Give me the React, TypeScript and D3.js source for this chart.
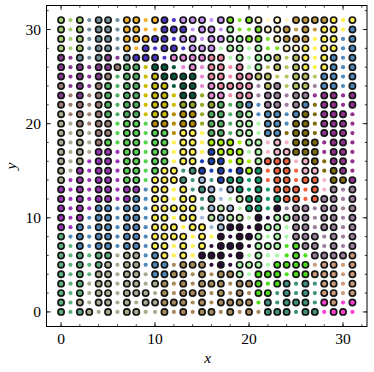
import React, { useRef, useEffect } from 'react';
import * as d3 from 'd3';

// one string per row, top row is y = 31; each char is the cluster of the point
const clusterRows = [
  'aaabbbbccccddeeeeefffgggghhhhiii',
  'aaabbbbccccdddeeeerfffgghhhhiiij',
  'aaabbbbcccdddeeeeerrfffghhhiiijj',
  'aaabbbbccdddddeeerrrrrffggiiiijj',
  'kkbbbkkbddddppppqqrrrrrsssiiijjj',
  'kkkkkklmmnoooppp' + 'qqqqrrssssiiijjj',
  'kkkkklmmmnnoooop' + 'qqqqqsssssssjjjj',
  'lkkklmmmmnnnooop' + 'pqqqqtstssstjjjj',
  'klkllmmmmnnnnoou' + 'ppqqqttttttAAAAA',
  'lllllmmmmnnnnuuu' + 'ummmjjttttjBAAAA',
  'wllllmmmmnnnvvvu' + 'mmmmrjjjjjBBAAAA',
  'wwllllxxxxvvvvvu' + 'mmmrrrjjjBBBAAAA',
  'wwwwllxxxxxxviii' + 'mmmrrrjjBBBBAAAA',
  'wwwwlxxxxxxxiiii' + 'CCCCrrDDDBBBAAAA',
  'wwwwyyyxxxxxiiii' + 'zCCCrrDDDBBBAAAA',
  'wwwyyyyxxxxxiiiz' + 'zzCCCrEEEDDBBAAA',
  'wwyyyyyxxxxiiFFz' + 'zzzzCGEEEEDDBBAA',
  'wyyyyyyxxxiiiFFH' + 'FzGGGGEEEEEEDBBA',
  'yyyyyyyyyjiiiiFF' + 'HHHGGGGEEEEEDttt',
  'yyyyyyyyjjiiiiiF' + 'FHJJGGGGEEEEtttt',
  'yyyyjjjjjjiiiiiF' + 'HJHJGGGKtttttttt',
  'yyyjjjjjjjiiiiiH' + 'JHJJJKKrrttttttt',
  'yyjjjjjjjjiiiiii' + 'HHKKKKrrrttttttt',
  'Ljjjjjjjjjiiiiii' + 'iKKKKrrrrttttttt',
  'LLjjjjjjjjiiiiii' + 'KKKKKrrrMMtttttt',
  'LLLLLLwwwjjiiiiK' + 'KKKKrrrrMMMttttO',
  'LLLLLwwwwjjjPPPP' + 'KKKrrrrMMMMOOOOO',
  'LLLLwwwwwwjjPPPP' + 'PPPrrMMMMMMOOOOO',
  'LLLwwwwwwwwPPPPP' + 'PPPPPMMMFFFFOOOO',
  'LLLwwwwwwwwPPPPP' + 'PPPPPMMFFFFFOOOO',
  'LLwwwwwwwwwPPPPP' + 'PPPPPMFFFFFFQOQQ',
  'LLLwwwwwwwwPPPPP' + 'PPPPPPFFFFFFQQQQ',
];

// same layout, # = core point, . = border point
const coreRows = [
  '#.#.##.##.##.###' + '.##.##.#.#####.#',
  '#.#.##.##..###.#' + '#.#..####.#.##.#',
  '#.#.##.#####.##.' + '######.####.##.#',
  '#.#.##.#.#.##.##' + '#.##.#..###.##.#',
  '#.#.##.####.####' + '##.#.###.##.##.#',
  '#.#.#####.##..#.' + '##.#.#.#.##.##.#',
  '#.#.##.##.#####.' + '##.####..##.##.#',
  '#.#.##.##.##.##.' + '#####.##.##.##.#',
  '#.#.##.##.##.##.' + '##.##.##.##.##.#',
  '#.#.##.##.##.##.' + '##.##.##.##.##.#',
  '#.#.##.##.##.##.' + '##.##.##.##.###.',
  '#.#.##.##.##.##.' + '##.##.##.##.###.',
  '#.#.##.##.##.##.' + '##.##.##.##.###.',
  '#.#.##.##.##.##.' + '###.##.#.###.##.',
  '#.#.##.##.##.##.' + '####.#.#####.##.',
  '#.#.##.##.##.##.' + '##.#.####.##.##.',
  '#.#.##.##.###.##' + '.#.###.##.##.##.',
  '#.#.##.##.####.#' + '.###.#.##.##.###',
  '#.#.##.##.##.#.#' + '#.##.#.###.#.#.#',
  '#.#.##.##.##.##.' + '#..###.###.###.#',
  '#.#.##.##.#####.' + '###.##.#.##.##.#',
  '#.#.##.##.##.##.' + '####.#.####.##.#',
  '#.#.##.##.###.##' + '.###.###.##.##.#',
  '#.#.##.##.####.#' + '.#.###.#.###.#.#',
  '#.#.##.##.##.#.#' + '.###.###.###.#.#',
  '#.#.##.##.##.#.#' + '##.#.#...#.#####',
  '#.#.##.##.##.###' + '.#.###.####.##.#',
  '#.#.##.##.####.#' + '.###.###.#####.#',
  '#.#.##.##.##.#.#' + '##.###.##.#.##.#',
  '#.#.##.###.#.###' + '.#.#.##.#.#.##.#',
  '#.#.##.#.#####.#' + '.####.#.###.##.#',
  '#.##.#.##..#.#.#' + '#.#.#.###.##.##.',
];

const clusterIds = 'abcdefghijklmnopqrstuvwxyzABCDEFGHJKLMOPQ'.split('');
const clusterColors = [
  '#a6cf74', '#6f8f9d', '#f4b02c', '#4a34c4', '#c893f5', '#7fe02c', '#fff6c4', '#c2983e',
  '#fff04e', '#4f88bb', '#833a8f', '#9c7a74', '#4fae62', '#cdbb00', '#07583a', '#e586d6',
  '#ee8aa2', '#aaf7a8', '#bcc262', '#9b7f9b', '#94a524', '#b48a00', '#aeaa92', '#55d24f',
  '#9b35b8', '#1c3fb4', '#93308f', '#7d6c08', '#a8f000', '#f6b4cc', '#f4603a', '#3f907e',
  '#0a9c70', '#a2bbdc', '#b9e9a2', '#2b0a38', '#5bb07e', '#4ddc1c', '#cd9a78', '#a98a5a',
  '#ff3fd4',
];

const xTicks = [0, 10, 20, 30];
const yTicks = [0, 10, 20, 30];
const minorTicks = d3.range(0, 33, 2);

const width = 374;
const height = 372;
const left = 46.5;
const right = 367;
const top = 5.5;
const bottom = 326.5;

const App = () => {
  const ref = useRef<SVGSVGElement>(null);

  useEffect(() => {
    const svg = d3.select(ref.current);
    svg.selectAll('*').remove();

    const x = d3.scaleLinear().domain([-1.55, 32.55]).range([left, right]);
    const y = d3.scaleLinear().domain([-1.55, 32.55]).range([bottom, top]);
    const color = d3.scaleOrdinal<string, string>().domain(clusterIds).range(clusterColors);

    const points = clusterRows.flatMap((row, r) =>
      row.split('').map((c, i) => ({
        x: i,
        y: 31 - r,
        cluster: c,
        core: coreRows[r][i] === '#',
      }))
    );

    svg.append('g')
      .selectAll('circle')
      .data(points)
      .enter().append('circle')
      .attr('cx', d => x(d.x))
      .attr('cy', d => y(d.y))
      .attr('r', d => d.core ? 3.1 : 2.1)
      .attr('fill', d => color(d.cluster))
      .attr('stroke', d => d.core ? '#151515' : 'none')
      .attr('stroke-width', 1.7);

    const ticks = svg.append('g').attr('stroke', '#000').attr('stroke-width', 0.8);
    const addTicks = (values: number[], len: number) => {
      values.forEach(v => {
        ticks.append('line').attr('x1', x(v)).attr('x2', x(v)).attr('y1', bottom).attr('y2', bottom - len);
        ticks.append('line').attr('x1', x(v)).attr('x2', x(v)).attr('y1', top).attr('y2', top + len);
        ticks.append('line').attr('y1', y(v)).attr('y2', y(v)).attr('x1', left).attr('x2', left + len);
        ticks.append('line').attr('y1', y(v)).attr('y2', y(v)).attr('x1', right).attr('x2', right - len);
      });
    };
    addTicks(minorTicks, 2.2);
    addTicks(xTicks, 4.4);

    svg.append('rect')
      .attr('x', left).attr('y', top)
      .attr('width', right - left).attr('height', bottom - top)
      .attr('fill', 'none').attr('stroke', '#000').attr('stroke-width', 1);

    const font = '"Liberation Serif", serif';
    svg.append('g').selectAll('text')
      .data(xTicks)
      .enter().append('text')
      .attr('x', d => x(d))
      .attr('y', 344)
      .attr('text-anchor', 'middle')
      .attr('font-family', font).attr('font-size', 15.5)
      .text(d => d);

    svg.append('g').selectAll('text')
      .data(yTicks)
      .enter().append('text')
      .attr('x', 41)
      .attr('y', d => y(d) + 5.5)
      .attr('text-anchor', 'end')
      .attr('font-family', font).attr('font-size', 15.5)
      .text(d => d);

    svg.append('text')
      .attr('x', (left + right) / 2 + 1).attr('y', 363)
      .attr('text-anchor', 'middle')
      .attr('font-family', font).attr('font-size', 15.5).attr('font-style', 'italic')
      .text('x');

    svg.append('text')
      .attr('transform', `translate(16, ${(top + bottom) / 2}) rotate(-90)`)
      .attr('text-anchor', 'middle')
      .attr('font-family', font).attr('font-size', 15.5).attr('font-style', 'italic')
      .text('y');
  }, []);

  return (
    <svg
      ref={ref}
      width={width}
      height={height}
      style={{ position: 'absolute', left: 0, top: 0, background: '#fff' }}
    />
  );
};

export default App;
